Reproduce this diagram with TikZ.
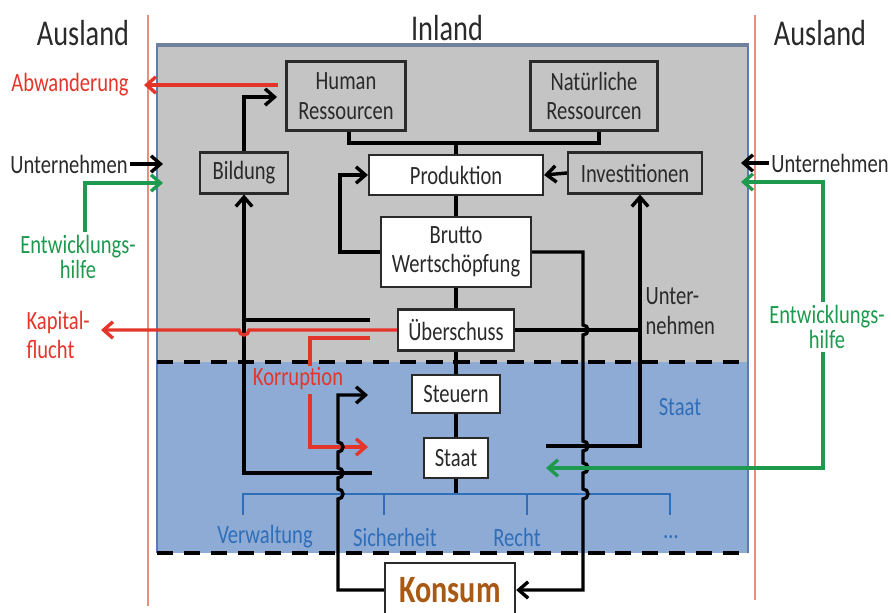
\documentclass[tikz,border=0pt]{standalone}
\usepackage{fontspec}
\setmainfont{Carlito}[FakeStretch=0.78]
\usetikzlibrary{arrows.meta}

\definecolor{panelgray}{HTML}{C4C4C4}
\definecolor{panelblue}{HTML}{8EABD6}
\definecolor{frameblue}{HTML}{5B7BB5}
\definecolor{frametop}{HTML}{6F819E}
\definecolor{statblue}{HTML}{2F6EB8}
\definecolor{flowred}{HTML}{E3352A}
\definecolor{flowgreen}{HTML}{1E9A4E}
\definecolor{borderred}{HTML}{E8907E}
\definecolor{inktext}{HTML}{2A2A2A}
\definecolor{konsumbrown}{HTML}{A85A14}

\newcommand\boxfont{\fontsize{22.5}{25}\selectfont}
\newcommand\tightfont{\fontsize{22.5}{22}\selectfont}
\newcommand\titlefont{\fontsize{31}{34}\selectfont}
\newcommand\hoprad{0.15cm}

\begin{document}
\begin{tikzpicture}[x=0.03cm,y=-0.03cm,
  >={Straight Barb[length=8pt,width=14pt]},
  conn/.style={line width=2.9pt,draw=black},
  redflow/.style={line width=2.9pt,draw=flowred},
  greenflow/.style={line width=2.9pt,draw=flowgreen},
  grbox/.style={draw=inktext,line width=1.8pt,fill=panelgray,text=inktext,
    font=\boxfont,align=center,inner sep=0pt},
  whbox/.style={grbox,fill=white},
  lbl/.style={font=\boxfont,align=center,inner sep=2pt},
  title/.style={font=\titlefont,text=inktext,inner sep=0pt},
  divider/.style={dash pattern=on 14pt off 9pt,line width=3.4pt},
  bracketline/.style={draw=statblue,line width=2.4pt},
]
\useasboundingbox (0,0) rectangle (891,613);

% domestic panel: private sector (grey) above, state (blue) below
\fill[panelgray] (157,45) rectangle (748,362);
\fill[panelblue] (157,362) rectangle (748,553);
\draw[frameblue,line width=1.4pt] (157,553) -- (157,45) (748,45) -- (748,553);
\draw[frametop,line width=2.6pt] (156,45) -- (749,45);
\draw[divider] (157,362) -- (748,362);
\draw[divider] (157,553) -- (748,553);

% borders to the outside world
\draw[borderred,line width=1.5pt] (148,15) -- (148,606);
\draw[borderred,line width=1.5pt] (755,15) -- (755,600);

% titles
\node[title] (auL) at (83,33) {Ausland};
\node[title] (inl) at (447,28) {Inland};
\node[title] (auR) at (820,33) {Ausland};

% boxes
\node[grbox,minimum width=3.57cm,minimum height=2.07cm] (hr) at (346,96) {Human\\Ressourcen};
\node[grbox,minimum width=3.81cm,minimum height=2.07cm] (nr) at (594,96) {Natürliche\\Ressourcen};
\node[grbox,minimum width=2.64cm,minimum height=1.23cm] (bild) at (244,173) {Bildung};
\node[whbox,minimum width=5.22cm,minimum height=1.2cm] (prod) at (456,175) {Produktion};
\node[grbox,minimum width=4.02cm,minimum height=1.23cm] (inv) at (635,173) {Investitionen};
\node[whbox,minimum width=4.5cm,minimum height=2.1cm] (bw) at (456,252) {Brutto\\Wertschöpfung};
\node[whbox,minimum width=3.48cm,minimum height=1.23cm] (ues) at (456,330) {Überschuss};
\node[whbox,minimum width=2.64cm,minimum height=1.14cm] (steu) at (456,394) {Steuern};
\node[whbox,minimum width=1.92cm,minimum height=1.2cm] (staat) at (456,458) {Staat};
\node[whbox,line width=2pt,minimum width=3.9cm,minimum height=1.62cm,
  font=\fontsize{33}{34}\selectfont\bfseries,text=konsumbrown] (kons) at (450,590) {Konsum};

% labels
\node[lbl,text=flowred] (abw) at (70,85) {Abwanderung};
\node[lbl,text=inktext] (unL) at (69,164) {Unternehmen};
\node[lbl,text=flowgreen,font=\tightfont] (entL) at (78,257) {Entwicklungs-\\hilfe};
\node[lbl,text=flowred,align=left,anchor=west] (kap) at (24,335) {Kapital-\\flucht};
\node[lbl,text=inktext] (unR) at (830,163) {Unternehmen};
\node[lbl,text=flowgreen,font=\tightfont] (entR) at (827,327) {Entwicklungs-\\hilfe};
\node[lbl,text=inktext,align=left,anchor=west] (untn) at (643,311) {Unter-\\nehmen};
\node[lbl,text=flowred] (korr) at (298,379) {Korruption};
\node[lbl,text=statblue] (stl) at (680,407) {Staat};
\node[lbl,text=statblue] (verw) at (265,537) {Verwaltung};
\node[lbl,text=statblue] (sich) at (395,537) {Sicherheit};
\node[lbl,text=statblue] (recht) at (517,537) {Recht};
\node[lbl,text=statblue] (etc) at (671,537) {\ldots};

% resources feed production
\coordinate (bus) at (456,143);
\draw[conn] ([xshift=0.09cm]hr.south) |- (bus) -| ([xshift=0.15cm]nr.south);
\draw[conn] (bus) -- (prod.north);
\draw[conn,->] (inv.west) -- (prod.east);
\draw[conn,->] (bw.west) -- ++(-40,0) |- (prod.west);

% main chain
\draw[conn] (prod.south) -- (bw.north);
\draw[conn] (bw.south) -- (ues.north);
\draw[conn] (ues.south) -- (steu.north);
\draw[conn] (steu.south) -- (staat.north);
\coordinate (brk) at (456,494);
\draw[conn] (staat.south) -- (brk);

% state functions
\draw[bracketline] (243,515) -- (243,494) -- (670,494) -- (670,515);
\draw[bracketline] (384,494) -- (384,515);
\draw[bracketline] (527,494) -- (527,515);

% education
\coordinate (hrin) at (277,97);
\draw[conn,->] (bild.north) |- (hrin);
\coordinate (edufund) at (372,473);
\draw[conn,->] (edufund) -| (bild.south);
\coordinate (edupriv) at (370,320);
\draw[conn] (edupriv) -- (edupriv -| bild.south);

% outflows
\coordinate (abwfrom) at (278,85);
\coordinate (abwto) at (144,85);
\draw[redflow,->] (abwfrom) -- (abwto);
\coordinate (kfto) at (101,330);
\draw[redflow,->] (ues.west) -- (249,330)
  arc[start angle=0,end angle=-180,radius=\hoprad] -- (kfto);

% corruption
\coordinate (korfrom) at (370,338);
\coordinate (korto) at (368,447);
\draw[redflow] (korfrom) -- (310,338) -- (310,366);
\draw[redflow,->] (310,394) -- (310,447) -- (korto);

% consumption taxes
\coordinate (taxto) at (368,395);
\draw[conn,->] (kons.west) -| (338,499)
  arc[start angle=-90,end angle=90,radius=\hoprad] -- (338,478)
  arc[start angle=-90,end angle=90,radius=\hoprad] -- (338,452)
  arc[start angle=-90,end angle=90,radius=\hoprad] -- (338,395) -- (taxto);

% value added to consumption
\draw[conn,->] (bw.east) -| (583,325)
  arc[start angle=90,end angle=-90,radius=\hoprad] -- (583,441)
  arc[start angle=90,end angle=-90,radius=\hoprad] -- (583,463)
  arc[start angle=90,end angle=-90,radius=\hoprad] -- (583,489)
  arc[start angle=90,end angle=-90,radius=\hoprad] |- (kons.east);

% reinvestment
\coordinate (ujoin) at (640,446);
\coordinate (stinv) at (546,446);
\draw[conn,->] (stinv) -- (ujoin) -- (inv.south -| ujoin);
\draw[conn] (ues.east) -- (ues.east -| ujoin);

% inflows from abroad
\coordinate (firmL) at (163,164);
\draw[conn,->] (unL.east) -- (firmL);
\coordinate (aidL) at (163,183);
\draw[greenflow,->] (entL.north -| 85,0) |- (aidL);
\coordinate (firmR) at (741,163);
\draw[conn,->] (unR.west) -- (firmR);
\coordinate (aidR) at (823,182);
\coordinate (aidRto) at (741,182);
\draw[greenflow,->] (entR.north -| aidR) -- (aidR) -- (aidRto);
\coordinate (aidSt) at (546,468);
\draw[greenflow,->] (entR.south -| aidR) |- (aidSt);
\end{tikzpicture}
\end{document}
